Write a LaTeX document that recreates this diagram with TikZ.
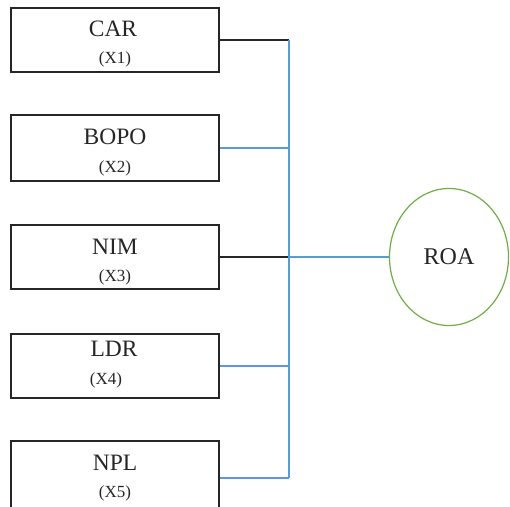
\documentclass[tikz,border=0pt]{standalone}
\usepackage{fontspec}
\setmainfont{Liberation Serif}
\usetikzlibrary{shapes.geometric}
\definecolor{busblue}{HTML}{5B9BD5}
\definecolor{roagreen}{HTML}{70AD47}
\begin{document}
\begin{tikzpicture}[x=1pt,y=-1pt,
  varbox/.style={draw=black!85,line width=1.5pt,minimum width=208pt,inner sep=0pt},
  bigtxt/.style={font=\fontsize{23.5}{23.5}\selectfont,inner sep=0pt,text=black!85},
  smalltxt/.style={font=\fontsize{17}{17}\selectfont,inner sep=0pt,text=black!85},
  blk/.style={draw=black!85,line width=1.3pt},
  blu/.style={draw=busblue,line width=1.3pt}]
\useasboundingbox (0,0) rectangle (510,506);
\node[varbox,minimum height=64pt] (b1) at (115,40) {};
\node[varbox,minimum height=66pt] (b2) at (115,148) {};
\node[varbox,minimum height=64pt] (b3) at (115,257) {};
\node[varbox,minimum height=64pt] (b4) at (115,366) {};
\node[varbox,minimum height=74pt] (b5) at (115,478) {};
\node[bigtxt] (t1) at (113,29) {CAR};
\node[smalltxt] (s1) at (115,59) {(X1)};
\node[bigtxt] (t2) at (115,137) {BOPO};
\node[smalltxt] (s2) at (115,168) {(X2)};
\node[bigtxt] (t3) at (115,247) {NIM};
\node[smalltxt] (s3) at (115,277) {(X3)};
\node[bigtxt] (t4) at (114,349) {LDR};
\node[smalltxt] (s4) at (106,380) {(X4)};
\node[bigtxt] (t5) at (115,463) {NPL};
\node[smalltxt] (s5) at (115,493) {(X5)};
\node[ellipse,draw=roagreen,line width=1.2pt,minimum width=119pt,minimum height=137pt,inner sep=0pt,font=\fontsize{24}{24}\selectfont,text=black!85] (roa) at (449,257) {ROA};
\coordinate (bus) at (289,0);
\draw[blk] (b1.east) -- (b1.east -| bus);
\draw[blu] (b2.east) -- (b2.east -| bus);
\draw[blk] (b3.east) -- (b3.east -| bus);
\draw[blu] (b4.east) -- (b4.east -| bus);
\draw[blu] (b5.east) -- (b5.east -| bus);
\draw[blu] (b1.east -| bus) -- (b5.east -| bus);
\draw[blu] (b3.east -| bus) -- (roa.west);
\end{tikzpicture}
\end{document}
